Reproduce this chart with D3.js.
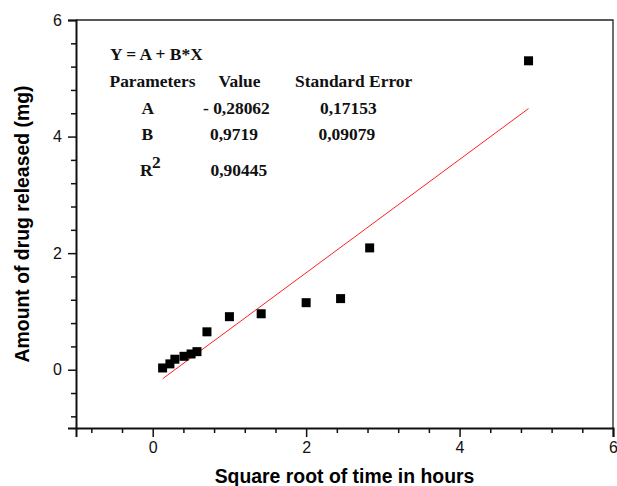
<!DOCTYPE html>
<html>
<head>
<meta charset="utf-8">
<script src="https://cdn.jsdelivr.net/npm/d3@7/dist/d3.min.js"></script>
<style>
  body { margin: 0; background: #fff; }
  svg { display: block; }
</style>
</head>
<body>
<div id="chart"></div>
<script>
// data: sqrt(time) vs drug released
var sqrtTime = [0.129, 0.224, 0.289, 0.408, 0.5, 0.577, 0.707, 1.0, 1.414, 2.0, 2.449, 2.828, 4.899];
var released = [0.03, 0.10, 0.18, 0.23, 0.27, 0.31, 0.65, 0.91, 0.96, 1.15, 1.22, 2.09, 5.30];

// linear fit parameters shown in the box
var fitA = -0.28062;
var fitB = 0.9719;

var xTickLabels = [0, 2, 4, 6];
var yTickLabels = [0, 2, 4, 6];

var tableHeader = ["Parameters", "Value", "Standard Error"];
var paramNames = ["A", "B"];
var paramValues = ["- 0,28062", "0,9719"];
var paramErrors = ["0,17153", "0,09079"];
var rSquared = "0,90445";

var width = 617, height = 486;
var margin = {left: 76, right: 4, top: 20, bottom: 58};

var svg = d3.select("#chart").append("svg")
  .attr("width", width)
  .attr("height", height);

var x = d3.scaleLinear().domain([-1, 6]).range([margin.left, width - margin.right]);
var y = d3.scaleLinear().domain([-1, 6]).range([height - margin.bottom, margin.top]);

// minor ticks every 0.4
var minorX = d3.range(-0.8, 6.01, 0.4).map(function(d){ return +d.toFixed(2); })
  .filter(function(d){ return xTickLabels.indexOf(d) < 0; });
var minorY = d3.range(-0.8, 6.01, 0.4).map(function(d){ return +d.toFixed(2); })
  .filter(function(d){ return yTickLabels.indexOf(d) < 0; });

// frame top/right
svg.append("path")
  .attr("d", "M" + x(-1) + "," + y(6) + "H" + x(6) + "V" + y(-1))
  .attr("fill", "none")
  .attr("stroke", "#222")
  .attr("stroke-width", 1.3);

// x axis
svg.append("g")
  .attr("transform", "translate(0," + y(-1) + ")")
  .call(d3.axisBottom(x).tickValues(xTickLabels).tickSize(9).tickPadding(5).tickFormat(d3.format("d")));
svg.append("g")
  .attr("transform", "translate(0," + y(-1) + ")")
  .call(d3.axisBottom(x).tickValues(minorX).tickSize(5).tickFormat(""))
  .select(".domain").remove();

// y axis
svg.append("g")
  .attr("transform", "translate(" + x(-1) + ",0)")
  .call(d3.axisLeft(y).tickValues(yTickLabels).tickSize(8).tickPadding(6).tickFormat(d3.format("d")));
svg.append("g")
  .attr("transform", "translate(" + x(-1) + ",0)")
  .call(d3.axisLeft(y).tickValues(minorY).tickSize(5).tickFormat(""))
  .select(".domain").remove();

svg.selectAll(".domain").attr("stroke", "#111").attr("stroke-width", 2);
svg.selectAll(".tick line").attr("stroke", "#111").attr("stroke-width", 1.5);
svg.selectAll(".tick text")
  .attr("font-family", "Liberation Sans, Arial, sans-serif")
  .attr("font-size", 16)
  .attr("fill", "#111");

// axis titles
svg.append("text")
  .attr("x", (x(-1) + x(6)) / 2)
  .attr("y", 483)
  .attr("text-anchor", "middle")
  .attr("font-family", "Liberation Sans, Arial, sans-serif")
  .attr("font-weight", "bold")
  .attr("font-size", 19.4)
  .text("Square root of time in hours");

svg.append("text")
  .attr("transform", "translate(29," + ((y(-1) + y(6)) / 2) + ") rotate(-90)")
  .attr("text-anchor", "middle")
  .attr("font-family", "Liberation Sans, Arial, sans-serif")
  .attr("font-weight", "bold")
  .attr("font-size", 19.4)
  .text("Amount of drug released (mg)");

// fit line
var xs = d3.extent(sqrtTime);
svg.append("line")
  .attr("x1", x(xs[0])).attr("y1", y(fitA + fitB * xs[0]))
  .attr("x2", x(xs[1])).attr("y2", y(fitA + fitB * xs[1]))
  .attr("stroke", "#ff2020")
  .attr("stroke-width", 1);

// points
var sq = 9;
svg.append("g").selectAll("rect")
  .data(sqrtTime)
  .enter()
  .append("rect")
  .attr("x", function(d){ return x(d) - sq / 2; })
  .attr("y", function(d, i){ return y(released[i]) - sq / 2; })
  .attr("width", sq)
  .attr("height", sq)
  .attr("fill", "#000");

// parameter table (text is a bit stretched horizontally in the original)
var sx = 1.09;
function tText(px, py, s, size) {
  return svg.append("text")
    .attr("transform", "translate(" + px + "," + py + ") scale(" + sx + ",1)")
    .attr("font-family", "Liberation Serif, Times New Roman, serif")
    .attr("font-weight", "bold")
    .attr("font-size", size || 16)
    .attr("fill", "#111")
    .text(s);
}

tText(110, 59.5, "Y = A + B*X");
var colX = [109.5, 218.5, 295];
tableHeader.forEach(function(h, i){ tText(colX[i], 86.5, h); });

var rowY = [113.5, 139.5];
var valX = [203, 210];
var errX = [320, 318.5];
paramNames.forEach(function(p, i){
  tText(141.5, rowY[i], p);
  tText(valX[i], rowY[i], paramValues[i]);
  tText(errX[i], rowY[i], paramErrors[i]);
});

tText(140, 176, "R");
tText(152, 168, "2");
tText(210.5, 176, rSquared);
</script>
</body>
</html>
